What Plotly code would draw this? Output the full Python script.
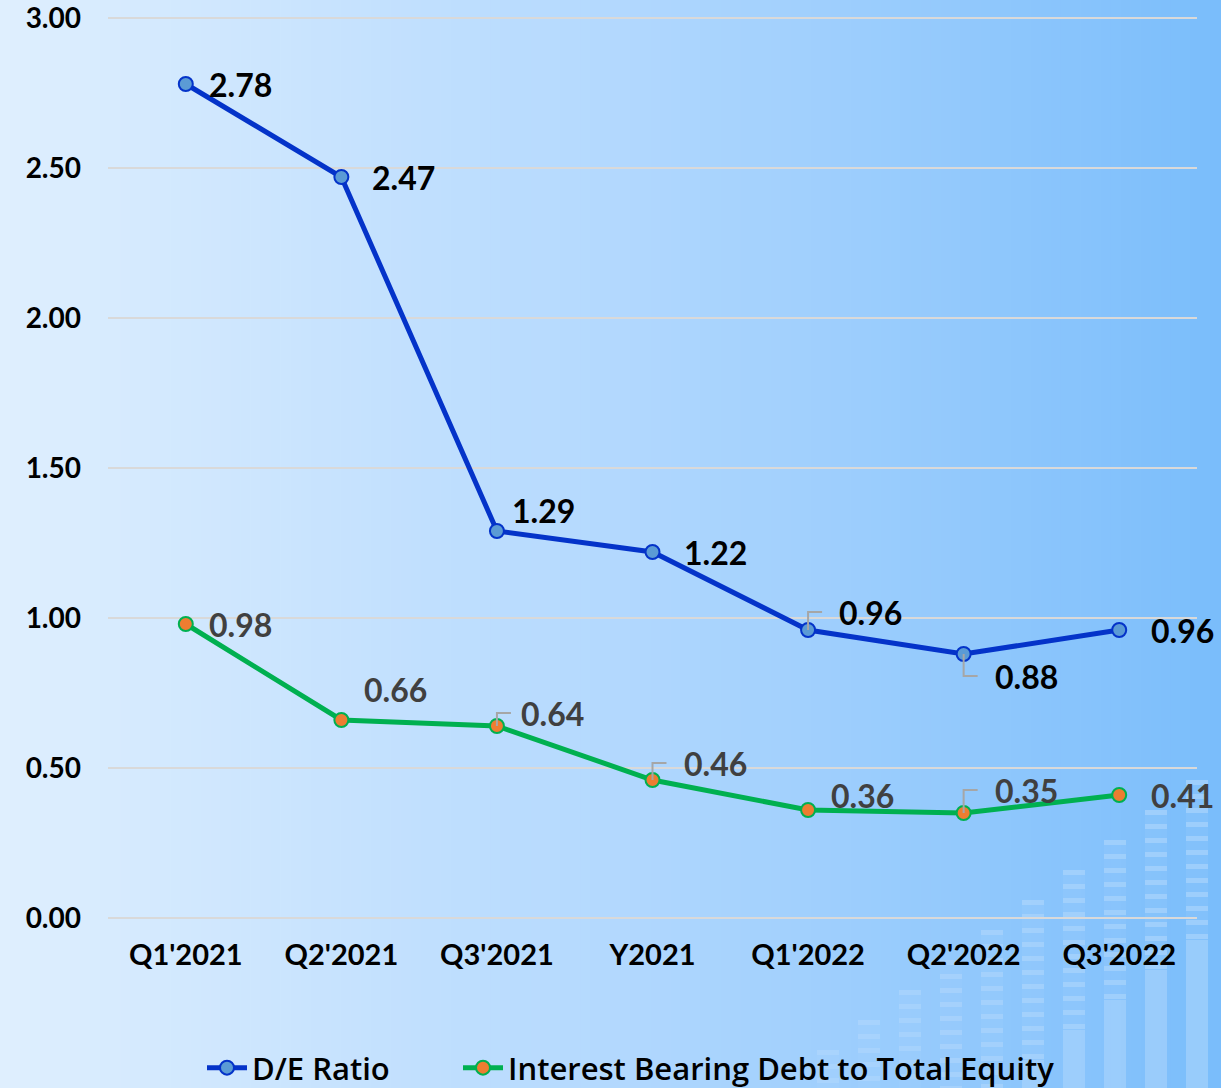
import plotly.graph_objects as go

categories = ["Q1'2021", "Q2'2021", "Q3'2021", "Y2021", "Q1'2022", "Q2'2022", "Q3'2022"]
de_ratio = [2.78, 2.47, 1.29, 1.22, 0.96, 0.88, 0.96]
ibd_equity = [0.98, 0.66, 0.64, 0.46, 0.36, 0.35, 0.41]
y_ticks = [0, 0.5, 1.0, 1.5, 2.0, 2.5, 3.0]

W, H = 1221, 1088
L, R, T, B = 108, 24, 16, 168
PW, PH = W - L - R, H - T - B

def px(x):
    return (x - L) / PW

def py(y):
    return (H - B - y) / PH

def lerp(c1, c2, t):
    return tuple(round(a + (b - a) * t) for a, b in zip(c1, c2))

FONT = "Lato"
LFONT = "Open Sans"
fig = go.Figure()

fig.add_trace(go.Scatter(
    x=categories, y=de_ratio, name="D/E Ratio", mode="lines+markers",
    line=dict(color="#0433c9", width=5),
    marker=dict(size=14, color="#5b9bd5", line=dict(color="#0433c9", width=2)),
    legend="legend",
))
fig.add_trace(go.Scatter(
    x=categories, y=ibd_equity, name="Interest Bearing Debt to Total Equity",
    mode="lines+markers",
    line=dict(color="#00b050", width=5),
    marker=dict(size=14, color="#ed7d31", line=dict(color="#00b050", width=2)),
    legend="legend2",
))

shapes = []
# background gradient
stops = [(0, (223, 239, 254)), (600, (180, 217, 254)), (1221, (122, 189, 251))]
N = 122
for i in range(N):
    x0 = i * W / N
    x1 = (i + 1) * W / N + 0.6
    xm = (x0 + x1) / 2
    for (a, ca), (b, cb) in zip(stops[:-1], stops[1:]):
        if a <= xm <= b:
            c = lerp(ca, cb, (xm - a) / (b - a))
            break
    shapes.append(dict(type="rect", xref="paper", yref="paper", layer="below",
                       x0=px(x0), x1=px(x1), y0=py(H), y1=py(0),
                       fillcolor="rgb(%d,%d,%d)" % c, line=dict(width=0)))

# decorative faint bar columns bottom-right
cols = []
cx = 1186
top = 780
while cx > 380:
    cols.append((cx, top))
    cx -= 41
    top += 30
for idx, (cx, top) in enumerate(cols):
    if top > 1075:
        continue
    op = max(0.05, 0.22 - idx * 0.013)
    solid = top + 160
    y = top
    while y < min(solid, H):
        shapes.append(dict(type="rect", xref="paper", yref="paper", layer="below",
                           x0=px(cx), x1=px(cx + 22), y0=py(y + 5), y1=py(y),
                           fillcolor="rgba(255,255,255,%.3f)" % op, line=dict(width=0)))
        y += 14
    if solid < H:
        shapes.append(dict(type="rect", xref="paper", yref="paper", layer="below",
                           x0=px(cx), x1=px(cx + 22), y0=py(H), y1=py(solid),
                           fillcolor="rgba(255,255,255,%.3f)" % (op * 0.8), line=dict(width=0)))
    shapes.append(dict(type="rect", xref="paper", yref="paper", layer="below",
                       x0=px(cx), x1=px(cx + 22), y0=py(H), y1=py(top),
                       fillcolor="rgba(255,255,255,%.3f)" % (op * 0.25), line=dict(width=0)))

# label positions (dx, dy in px; dy positive = up) and leader flags
de_pos = [(21, 0, False), (29, 0, False), (13, 21, False), (29, 0, False),
          (29, 18, True), (29, -22, True), (30, 0, False)]
ibd_pos = [(21, 0, False), (21, 31, False), (22, 13, True), (29, 17, True),
           (21, 15, False), (29, 23, True), (30, 0, False)]

annotations = []
for series, pos, color in ((de_ratio, de_pos, "#000000"), (ibd_equity, ibd_pos, "#404040")):
    for cat, val, (dx, dy, lead) in zip(categories, series, pos):
        annotations.append(dict(x=cat, y=val, xref="x", yref="y", text="%.2f" % val,
                                showarrow=False, xanchor="left", yanchor="middle",
                                xshift=dx, yshift=dy,
                                font=dict(family=FONT, size=32, color=color, weight="bold")))
        if lead:
            shapes.append(dict(type="path", xref="x", yref="y", xsizemode="pixel",
                               ysizemode="pixel", xanchor=cat, yanchor=val,
                               path="M 0 0 L 0 %d L 14 %d" % (dy, dy),
                               line=dict(color="#a6a6a6", width=2), layer="above"))

legend_common = dict(orientation="h", xref="container", yref="container",
                     y=0.0184, xanchor="left", yanchor="middle",
                     font=dict(family=LFONT, size=31, color="#000000", weight=600),
                     bgcolor="rgba(0,0,0,0)", itemwidth=40)

fig.update_layout(
    width=W, height=H,
    margin=dict(l=L, r=R, t=T, b=B, pad=0, autoexpand=False),
    paper_bgcolor="rgb(223,239,254)",
    plot_bgcolor="rgba(0,0,0,0)",
    shapes=shapes,
    annotations=annotations,
    showlegend=True,
    legend=dict(x=202 / W, **legend_common),
    legend2=dict(x=458 / W, **legend_common),
    xaxis=dict(type="category", range=[-0.5, len(categories) - 0.5], autorange=False,
               showgrid=False, zeroline=False, showline=False,
               ticks="", ticklabelstandoff=15,
               tickfont=dict(family=FONT, size=29, color="#000000", weight="bold")),
    yaxis=dict(range=[-2 / 300, 3 + 2 / 300], tickvals=y_ticks, tickformat=".2f",
               showgrid=True, gridcolor="#d9d9d9", gridwidth=2,
               zeroline=False, showline=False, ticks="", ticklabelstandoff=26,
               ticklabeloverflow="allow",
               tickfont=dict(family=FONT, size=28, color="#000000", weight="bold")),
)

fig.write_html("out.html", config={"displayModeBar": False},
               post_script="document.body.style.margin='0';document.body.style.overflow='hidden';")
